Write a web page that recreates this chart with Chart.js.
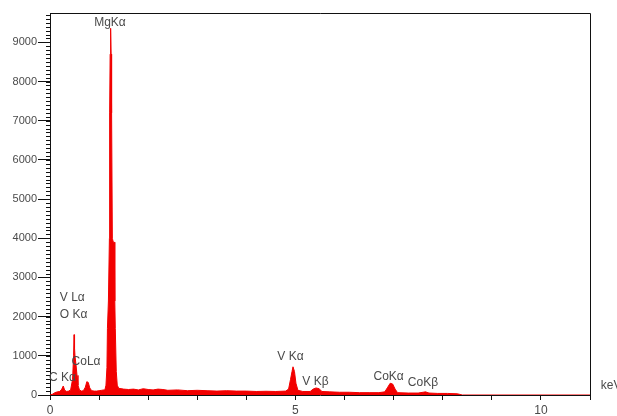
<!DOCTYPE html>
<html>
<head>
<meta charset="utf-8">
<script src="https://cdn.jsdelivr.net/npm/chart.js@4.4.1/dist/chart.umd.min.js"></script>
<style>
  html, body { margin: 0; padding: 0; background: #fff; }
  #wrap { width: 617px; height: 416px; }
</style>
</head>
<body>
<div id="wrap"><canvas id="eds" width="617" height="416"></canvas></div>
<script>
/* EDS spectrum: counts vs energy (keV), red filled trace with peak labels. */

// energy (keV) and counts
const KEV = [0.00, 0.05, 0.10, 0.15, 0.20, 0.24, 0.27, 0.30, 0.34, 0.38, 0.42, 0.46, 0.48, 0.49, 0.50, 0.51, 0.53, 0.55, 0.57, 0.60,
  0.64, 0.68, 0.72, 0.75, 0.78, 0.81, 0.85, 0.90, 0.95, 1.00, 1.05, 1.10, 1.12, 1.14, 1.16, 1.17, 1.19, 1.21, 1.215, 1.225,
  1.235, 1.245, 1.255, 1.27, 1.29, 1.31, 1.32, 1.33, 1.35, 1.37, 1.40, 1.50, 1.60, 1.70, 1.80, 1.90, 2.00, 2.10, 2.20, 2.30,
  2.40, 2.60, 2.80, 3.00, 3.20, 3.40, 3.60, 3.80, 4.00, 4.20, 4.40, 4.60, 4.80, 4.86, 4.90, 4.93, 4.95, 4.98, 5.01, 5.05,
  5.15, 5.30, 5.36, 5.42, 5.48, 5.54, 5.70, 5.90, 6.10, 6.30, 6.50, 6.70, 6.82, 6.88, 6.93, 6.98, 7.03, 7.08, 7.30, 7.50,
  7.60, 7.65, 7.72, 7.90, 8.10, 8.30, 8.40, 11.00];
const COUNTS = [0, 20, 60, 80, 90, 150, 230, 120, 90, 100, 130, 400, 1000, 1540, 1200, 980, 770, 500, 250, 130,
  100, 110, 200, 340, 320, 180, 110, 100, 100, 110, 120, 130, 140, 250, 700, 1700, 2400, 4000, 7200, 8700,
  9360, 8700, 7200, 4000, 3900, 3900, 2400, 1700, 600, 250, 170, 150, 140, 150, 130, 160, 140, 130, 150, 140,
  120, 130, 110, 120, 110, 100, 110, 100, 100, 90, 95, 90, 100, 150, 400, 600, 720, 600, 300, 120,
  90, 90, 150, 180, 160, 90, 80, 70, 70, 60, 60, 60, 80, 200, 300, 280, 150, 60, 50, 50,
  70, 80, 50, 40, 40, 30, 0, 0];

// axis ticks
const X_TICKS = [0, 1, 2, 3, 4, 5, 6, 7, 8, 9, 10, 11];
const X_LABELED = [0, 5, 10];
const Y_TICKS = [0, 1000, 2000, 3000, 4000, 5000, 6000, 7000, 8000, 9000];

// peak labels, anchored (left edge, middle) in data units
const LABELS = ["MgK\u03b1", "V L\u03b1", "O K\u03b1", "CoL\u03b1", "C K\u03b1", "V K\u03b1", "V K\u03b2", "CoK\u03b1", "CoK\u03b2", "keV"];
const LABEL_KEV = [0.90, 0.20, 0.20, 0.44, -0.02, 4.63, 5.14, 6.59, 7.29, 11.22];
const LABEL_CNT = [9515, 2475, 2040, 840, 434, 970, 332, 460, 306, 230];

const X_MAX = 11;
const Y_MAX = 9750;
const Y_MINOR = 100;

const RED = "#f20000";
const INK = "#111";
const TXT = "#4a4a4a";
const FONT = "'Liberation Sans', Arial, sans-serif";

const frameAndLabels = {
  id: "frameAndLabels",
  afterDatasetsDraw(chart) {
    const { ctx, chartArea: a, scales: { x, y } } = chart;
    ctx.save();
    // top and right border of the plot box
    ctx.strokeStyle = INK; ctx.lineWidth = 1;
    ctx.beginPath();
    ctx.moveTo(a.left, a.top + 0.5); ctx.lineTo(a.right + 0.5, a.top + 0.5); ctx.lineTo(a.right + 0.5, a.bottom);
    ctx.stroke();
    // minor y ticks
    ctx.beginPath();
    for (let v = 0; v <= Y_MAX; v += Y_MINOR) {
      const py = Math.round(y.getPixelForValue(v)) + 0.5;
      ctx.moveTo(a.left - 4, py); ctx.lineTo(a.left, py);
    }
    ctx.stroke();
    // peak labels
    ctx.fillStyle = TXT; ctx.font = "12px " + FONT;
    ctx.textAlign = "left"; ctx.textBaseline = "middle";
    LABELS.forEach((t, i) => ctx.fillText(t, x.getPixelForValue(LABEL_KEV[i]), y.getPixelForValue(LABEL_CNT[i])));
    ctx.restore();
  }
};

new Chart(document.getElementById("eds"), {
  type: "line",
  data: {
    datasets: [{
      data: KEV.map((k, i) => ({ x: k, y: COUNTS[i] })),
      borderColor: RED, backgroundColor: RED, fill: "origin",
      borderWidth: 1, pointRadius: 0, tension: 0,
    }],
  },
  options: {
    responsive: false, animation: false,
    layout: { padding: { left: 0, top: 13, right: 27, bottom: 0 } },
    plugins: { legend: { display: false }, tooltip: { enabled: false } },
    scales: {
      x: {
        type: "linear", min: 0, max: X_MAX,
        afterFit: s => { s.height = 21; },
        afterBuildTicks: s => { s.ticks = X_TICKS.map(v => ({ value: v })); },
        ticks: { autoSkip: false, maxRotation: 0, padding: 3, color: TXT,
          font: { size: 12, family: FONT }, callback: v => (X_LABELED.includes(v) ? v : "") },
        grid: { drawOnChartArea: false, drawTicks: true, tickLength: 5, color: INK },
        border: { color: INK, width: 1 },
      },
      y: {
        type: "linear", min: 0, max: Y_MAX,
        afterFit: s => { s.width = 50; },
        afterBuildTicks: s => { s.ticks = Y_TICKS.map(v => ({ value: v })); },
        ticks: { autoSkip: false, padding: 1, color: TXT, font: { size: 11, family: FONT }, callback: v => v },
        grid: { drawOnChartArea: false, drawTicks: true, tickLength: 12, color: INK },
        border: { color: INK, width: 1 },
      },
    },
  },
  plugins: [frameAndLabels],
});
</script>
</body>
</html>
